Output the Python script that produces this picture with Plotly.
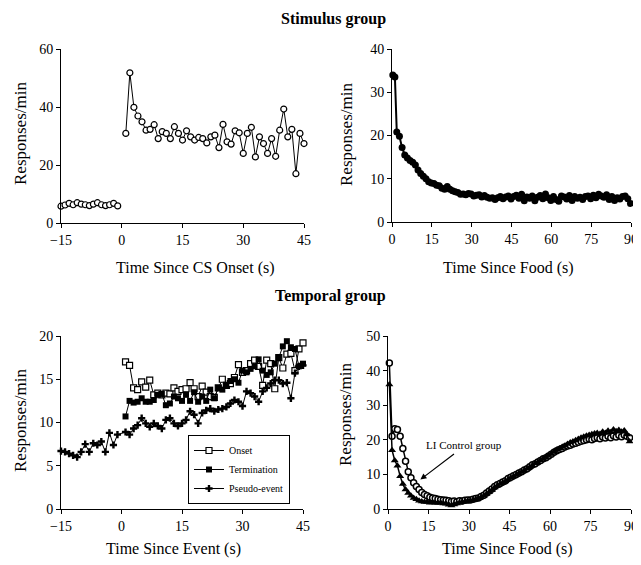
import plotly.graph_objects as go

# ---------------- Data ----------------
# Panel A: Stimulus group, time since CS onset (Onset)
stim_pre_x = [-15, -14, -13, -12, -11, -10, -9, -8, -7, -6, -5, -4, -3, -2, -1]
stim_pre_y = [5.8, 6.2, 6.8, 6.3, 7.0, 6.5, 6.3, 6.0, 6.5, 7.0, 6.3, 6.0, 6.3, 6.8, 5.9]
stim_cs_x = list(range(1, 46))
stim_cs_y = [30.9, 51.8, 39.9, 36.9, 34.9, 32.0, 32.3, 33.9, 29.1, 31.5,
             30.9, 29.1, 33.2, 30.9, 28.6, 31.8, 29.7, 28.6, 29.5, 29.1,
             27.6, 29.7, 30.3, 26.0, 34.0, 28.0, 27.2, 31.8, 31.1, 24.0,
             30.9, 33.0, 22.8, 29.7, 27.4, 24.0, 29.1, 23.0, 32.0, 39.3,
             29.7, 32.3, 17.0, 30.9, 27.4]

# Panel B: Stimulus group, time since food
stim_food_y = [34.0, 33.5, 20.8, 19.8, 17.2, 15.5, 14.8, 14.2, 13.8, 13.2,
               12.0, 11.2, 10.6, 10.0, 9.3, 9.0, 8.9, 8.5, 8.4, 7.8,
               7.6, 8.2, 7.6, 7.2, 7.0, 6.8, 6.4, 6.5, 6.3, 6.6,
               6.5, 6.0, 6.2, 6.3, 5.8, 6.1, 5.7, 5.5, 5.6, 5.2,
               5.6, 5.9, 5.4, 5.8, 6.0, 5.3, 5.9, 6.2, 5.5, 6.4,
               4.9, 5.8, 5.5, 6.0, 4.9, 5.7, 6.1, 5.4, 6.5, 5.6,
               5.0, 5.9, 5.2, 4.8, 6.0, 5.8, 5.3, 6.1, 5.0, 5.9,
               5.5, 5.7, 5.2, 5.9, 6.0, 5.4, 6.2, 5.6, 6.4, 6.0,
               5.7, 6.3, 5.2, 5.9, 5.0, 5.6, 5.3, 5.9, 6.0, 5.4, 4.3]
stim_food_x = [0.3, 1.1] + [1.8 + i for i in range(len(stim_food_y) - 2)]

# Panel C: Temporal group, time since event
temp_ev_x = list(range(1, 46))
onset_y = [17.0, 16.6, 14.0, 13.8, 14.7, 14.1, 14.9, 13.2, 13.4, 13.2,
           13.4, 13.3, 14.0, 13.6, 13.8, 13.9, 14.6, 13.9, 13.0, 14.2,
           13.5, 13.0, 12.9, 14.0, 15.0, 14.3, 14.5, 15.2, 16.7, 15.8,
           16.0, 16.8, 17.2, 16.5, 14.3, 17.2, 16.8, 13.9, 17.5, 16.3,
           17.9, 18.0, 16.0, 18.5, 19.2]
termination_y = [10.7, 12.5, 12.3, 12.4, 12.8, 12.4, 12.4, 12.6, 13.2, 13.3,
                 12.0, 12.2, 13.0, 12.8, 12.5, 13.2, 12.5, 13.5, 12.4, 13.0,
                 12.5, 13.8, 12.8, 14.0, 13.8, 14.3, 14.8, 15.0, 14.6, 16.0,
                 15.8, 16.2, 16.5, 17.3, 16.0, 15.5, 15.8, 16.8, 17.5, 18.8,
                 19.4, 18.7, 18.5, 16.5, 16.8]
pseudo_x = [-15, -14, -13, -12, -11, -10, -9, -8, -7, -6, -5, -4, -3, -2, -1,
            1, 2, 3, 4, 5, 6, 7, 8, 9, 10, 11, 12, 13, 14, 15, 16, 17, 18, 19, 20,
            21, 22, 23, 24, 25, 26, 27, 28, 29, 30, 31, 32, 33, 34, 35, 36, 37, 38,
            39, 40, 41, 42, 43, 44, 45]
pseudo_y = [6.7, 6.6, 6.4, 6.2, 6.0, 6.6, 7.5, 6.6, 7.6, 7.4, 7.8, 6.6, 8.8, 7.4, 8.6,
            8.9, 8.6, 9.3, 9.7, 10.5, 9.9, 9.5, 9.9, 9.6, 9.3, 10.3, 10.5, 9.9, 9.6, 9.9,
            10.3, 11.3, 10.9, 9.9, 11.1, 11.4, 11.6, 11.3, 11.5, 11.6, 11.8, 12.2, 12.6, 12.4,
            11.9, 13.6, 13.4, 13.0, 12.4, 13.6, 14.0, 14.5, 14.9, 14.9, 14.5, 14.6, 12.8,
            15.7, 16.5, 16.6]

# Panel D: Temporal group, time since food
temp_circle_y = [42.2, 21.0, 23.2, 23.0, 21.0, 17.5, 13.8, 10.8, 9.0, 7.6,
                 6.5, 5.6, 4.8, 4.2, 3.8, 3.4, 3.2, 3.0, 2.8, 2.7,
                 2.6, 2.5, 2.4, 2.2, 2.3, 2.1, 2.4, 2.3, 2.5, 2.6,
                 2.6, 2.8, 3.0, 3.2, 3.6, 4.0, 4.6, 5.2, 5.8, 6.5,
                 7.0, 7.4, 7.8, 8.2, 8.8, 9.2, 9.6, 10.0, 10.4, 10.8,
                 11.3, 11.6, 12.2, 12.8, 13.1, 13.6, 14.0, 14.5, 14.8, 15.3,
                 15.8, 16.4, 16.8, 17.2, 17.5, 17.9, 18.2, 18.4, 18.8, 19.0,
                 19.3, 19.6, 19.8, 20.0, 20.2, 20.0, 20.4, 20.6, 20.3, 20.8,
                 20.5, 21.0, 20.6, 21.2, 20.8, 21.3, 20.9, 21.4, 21.0, 20.6]
temp_triangle_y = [36.0, 17.0, 14.0, 12.5, 9.5, 7.2, 5.6, 4.6, 3.8, 3.2,
                   2.8, 2.4, 2.2, 2.0, 2.0, 1.8, 1.9, 1.8, 1.7, 1.8,
                   1.6, 1.5, 1.2, 1.0, 1.3, 1.6, 1.8, 2.0, 2.2, 2.3,
                   2.4, 2.6, 2.8, 3.1, 3.4, 3.8, 4.3, 4.9, 5.5, 6.2,
                   6.7, 7.2, 7.6, 8.0, 8.5, 9.0, 9.4, 9.8, 10.3, 10.7,
                   11.1, 11.6, 12.1, 12.6, 13.2, 13.5, 14.1, 14.6, 15.0, 15.6,
                   16.0, 16.6, 17.1, 17.5, 17.9, 18.3, 18.8, 19.2, 19.5, 19.9,
                   20.2, 20.6, 20.9, 21.2, 21.4, 21.6, 21.8, 22.0, 21.7, 22.3,
                   22.0, 22.6, 22.2, 23.0, 22.5, 22.8, 22.3, 22.7, 21.5, 19.5]
temp_food_x = [0.5 + i for i in range(len(temp_circle_y))]

# ---------------- Figure ----------------
# The page body has an 8px margin, so the figure starts at (8, 8) on screen.
OFF = 8
W, H = 641 - OFF, 565 - OFF
FONT = "Liberation Serif, Times New Roman, serif"

def fx(px):
    return (px - OFF) / W

def fy(py):
    return 1 - (py - OFF) / H

fig = go.Figure()

open_circle = dict(symbol="circle", size=6, color="white", line=dict(color="black", width=1.2))

# Panel A
fig.add_trace(go.Scatter(x=stim_pre_x, y=stim_pre_y, mode="lines+markers", xaxis="x", yaxis="y",
                         line=dict(color="black", width=1), marker=open_circle,
                         showlegend=False, cliponaxis=False))
fig.add_trace(go.Scatter(x=stim_cs_x, y=stim_cs_y, mode="lines+markers", xaxis="x", yaxis="y",
                         line=dict(color="black", width=1), marker=open_circle,
                         showlegend=False, cliponaxis=False))

# Panel B
fig.add_trace(go.Scatter(x=stim_food_x, y=stim_food_y, mode="lines+markers", xaxis="x2", yaxis="y2",
                         line=dict(color="black", width=2),
                         marker=dict(symbol="circle", size=7, color="black"),
                         showlegend=False, cliponaxis=False))

# Panel C
fig.add_trace(go.Scatter(x=temp_ev_x, y=onset_y, mode="lines+markers", xaxis="x3", yaxis="y3",
                         name="Onset", line=dict(color="black", width=1),
                         marker=dict(symbol="square", size=6, color="white",
                                     line=dict(color="black", width=1.2)),
                         cliponaxis=False))
fig.add_trace(go.Scatter(x=temp_ev_x, y=termination_y, mode="lines+markers", xaxis="x3", yaxis="y3",
                         name="Termination", line=dict(color="black", width=1),
                         marker=dict(symbol="square", size=6, color="black"),
                         cliponaxis=False))
fig.add_trace(go.Scatter(x=pseudo_x, y=pseudo_y, mode="lines+markers", xaxis="x3", yaxis="y3",
                         name="Pseudo-event", line=dict(color="black", width=1),
                         marker=dict(symbol="cross", size=6, color="black"),
                         cliponaxis=False))

# Panel D
fig.add_trace(go.Scatter(x=temp_food_x, y=temp_circle_y, mode="lines+markers", xaxis="x4", yaxis="y4",
                         line=dict(color="black", width=1.5),
                         marker=dict(symbol="circle", size=6, color="white",
                                     line=dict(color="black", width=1.5)),
                         showlegend=False, cliponaxis=False))
fig.add_trace(go.Scatter(x=temp_food_x, y=temp_triangle_y, mode="lines+markers", xaxis="x4", yaxis="y4",
                         line=dict(color="black", width=1.5),
                         marker=dict(symbol="triangle-up", size=7, color="black"),
                         showlegend=False, cliponaxis=False))

axis_common = dict(showgrid=False, zeroline=False, showline=True, linecolor="black", linewidth=1,
                   ticks="outside", ticklen=4, tickcolor="black", tickwidth=1, automargin=False,
                   tickfont=dict(family=FONT, size=14, color="black"))

def xaxis(px0, px1, rng, tv, anchor):
    return dict(axis_common, domain=[fx(px0), fx(px1)], range=rng, tickvals=tv, anchor=anchor)

def yaxis(py0, py1, rng, tv, anchor):
    return dict(axis_common, domain=[fy(py1), fy(py0)], range=rng, tickvals=tv, anchor=anchor)

def text_ann(text, px, py, size, angle=0, yanchor="middle"):
    return dict(text=text, x=fx(px), y=fy(py), xref="paper", yref="paper",
                xanchor="center", yanchor=yanchor, showarrow=False, textangle=angle,
                font=dict(family=FONT, size=size, color="black"))

fig.update_layout(
    width=W, height=H, margin=dict(l=0, r=0, t=0, b=0, autoexpand=False),
    paper_bgcolor="white", plot_bgcolor="white",
    font=dict(family=FONT, color="black"),
    xaxis=xaxis(61, 304, [-15, 45], [-15, 0, 15, 30, 45], "y"),
    yaxis=yaxis(49, 223, [0, 60], [0, 20, 40, 60], "x"),
    xaxis2=xaxis(392, 631, [0, 90], [0, 15, 30, 45, 60, 75, 90], "y2"),
    yaxis2=yaxis(49, 222, [0, 40], [0, 10, 20, 30, 40], "x2"),
    xaxis3=xaxis(61, 303, [-15, 45], [-15, 0, 15, 30, 45], "y3"),
    yaxis3=yaxis(336, 509, [0, 20], [0, 5, 10, 15, 20], "x3"),
    xaxis4=xaxis(388, 631, [0, 90], [0, 15, 30, 45, 60, 75, 90], "y4"),
    yaxis4=yaxis(336, 509, [0, 50], [0, 10, 20, 30, 40, 50], "x4"),
    legend=dict(x=fx(188), y=fy(435), xanchor="left", yanchor="top",
                bordercolor="black", borderwidth=1, bgcolor="white",
                font=dict(family=FONT, size=10, color="black"),
                itemwidth=30, tracegroupgap=0),
    annotations=[
        text_ann("<b>Stimulus group</b>", 333, 8, 16, yanchor="top"),
        text_ann("<b>Temporal group</b>", 330, 296, 16),
        text_ann("Time Since CS Onset (s)", 196, 268, 16),
        text_ann("Time Since Food (s)", 508, 268, 16),
        text_ann("Time Since Event (s)", 173, 549, 16),
        text_ann("Time Since Food (s)", 507, 549, 16),
        text_ann("Responses/min", 20, 134, 17, -90),
        text_ann("Responses/min", 346, 135, 17, -90),
        text_ann("Responses/min", 20, 421, 17, -90),
        text_ann("Responses/min", 345, 415, 17, -90),
        dict(text="LI Control group", x=28, y=18.6, xref="x4", yref="y4",
             showarrow=False, font=dict(family=FONT, size=11, color="black")),
        dict(text="", x=12, y=8.5, xref="x4", yref="y4", ax=25, ay=16.2,
             axref="x4", ayref="y4", showarrow=True, arrowhead=2, arrowsize=1,
             arrowwidth=1.2, arrowcolor="black"),
    ],
)

fig.write_html("out.html")
